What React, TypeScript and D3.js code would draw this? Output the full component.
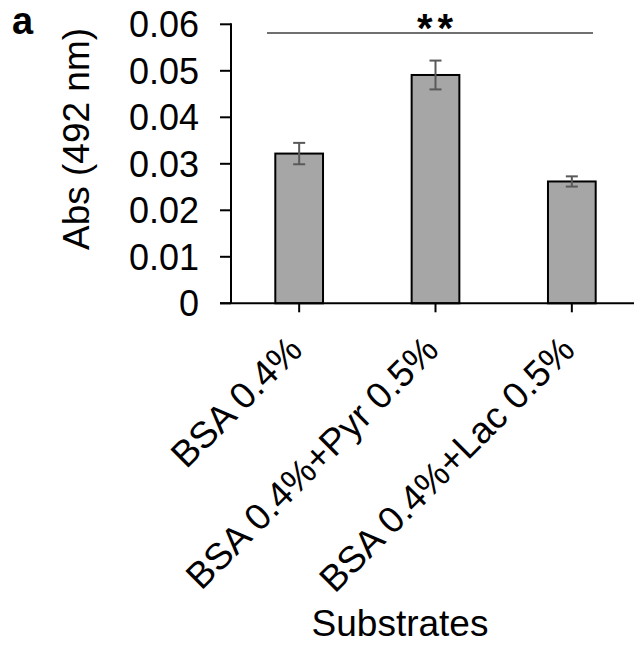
import React from "react";
import * as d3 from "d3";

// Absorbance by substrate, with standard error
const categories = ["BSA 0.4%", "BSA 0.4%+Pyr 0.5%", "BSA 0.4%+Lac 0.5%"];
const values = [0.0322, 0.0491, 0.0262];
const errors = [0.0023, 0.0031, 0.0011];
const yTicks = [0, 0.01, 0.02, 0.03, 0.04, 0.05, 0.06];
const yTickLabels = ["0", "0.01", "0.02", "0.03", "0.04", "0.05", "0.06"];
const significance = "**";

const W = 634;
const H = 645;
const FONT = "Arial, 'Liberation Sans', Helvetica, sans-serif";

export default function App() {
  const left = 231;
  const right = 640;
  const top = 24.3;
  const bottom = 303.3;

  const x = d3.scaleBand<string>().domain(categories).range([left, right]).paddingInner(0.65).paddingOuter(0.325);
  const xc = (c: string) => (x(c) ?? 0) + x.bandwidth() / 2;
  const y = d3.scaleLinear().domain([0, 0.06]).range([bottom, top]);

  return (
    <svg
      width={W}
      height={H}
      style={{ position: "absolute", left: 0, top: 0, background: "#fff" }}
      fontFamily={FONT}
    >
      <rect width={W} height={H} fill="#fff" />
      {/* panel letter */}
      <text x={12} y={34} fontSize={38} fontWeight="bold" fill="#000">a</text>

      {/* bars */}
      {categories.map((c, i) => (
        <rect
          key={c}
          x={x(c)}
          y={y(values[i])}
          width={x.bandwidth()}
          height={y(0) - y(values[i])}
          fill="#a6a6a6"
          stroke="#000"
          strokeWidth={2}
        />
      ))}

      {/* error bars */}
      {categories.map((c, i) => {
        const cx = xc(c);
        const y1 = y(values[i] + errors[i]);
        const y2 = y(values[i] - errors[i]);
        return (
          <g key={c} stroke="#595959" strokeWidth={2}>
            <line x1={cx} x2={cx} y1={y1} y2={y2} />
            <line x1={cx - 6} x2={cx + 6} y1={y1} y2={y1} />
            <line x1={cx - 6} x2={cx + 6} y1={y2} y2={y2} />
          </g>
        );
      })}

      {/* y axis */}
      <line x1={left} x2={left} y1={top - 1} y2={bottom} stroke="#000" strokeWidth={2} />
      {yTicks.map((t, i) => (
        <g key={t}>
          <line x1={left - 11} x2={left} y1={y(t)} y2={y(t)} stroke="#000" strokeWidth={2} />
          <text x={199} y={y(t)} dy="0.36em" textAnchor="end" fontSize={36} fill="#000">
            {yTickLabels[i]}
          </text>
        </g>
      ))}
      <text
        transform={`translate(89,139) rotate(-90)`}
        textAnchor="middle"
        fontSize={37}
        fill="#000"
      >
        Abs (492 nm)
      </text>

      {/* x axis */}
      <line x1={left - 11} x2={W} y1={bottom} y2={bottom} stroke="#000" strokeWidth={2} />
      {categories.map((c) => (
        <g key={c}>
          <line x1={xc(c)} x2={xc(c)} y1={bottom} y2={bottom + 9} stroke="#000" strokeWidth={2} />
          <text
            transform={`translate(${xc(c) + 5},352) rotate(-45)`}
            textAnchor="end"
            fontSize={37}
            fill="#000"
          >
            {c}
          </text>
        </g>
      ))}
      <text x={400} y={636} textAnchor="middle" fontSize={37} fill="#000">Substrates</text>

      {/* significance bracket */}
      <line x1={267} x2={593} y1={33} y2={33} stroke="#404040" strokeWidth={1.5} />
      <text
        x={xc(categories[1]) + 2}
        y={42}
        textAnchor="middle"
        fontSize={40}
        fontWeight="bold"
        letterSpacing={5}
        fill="#000"
      >
        {significance}
      </text>
    </svg>
  );
}
